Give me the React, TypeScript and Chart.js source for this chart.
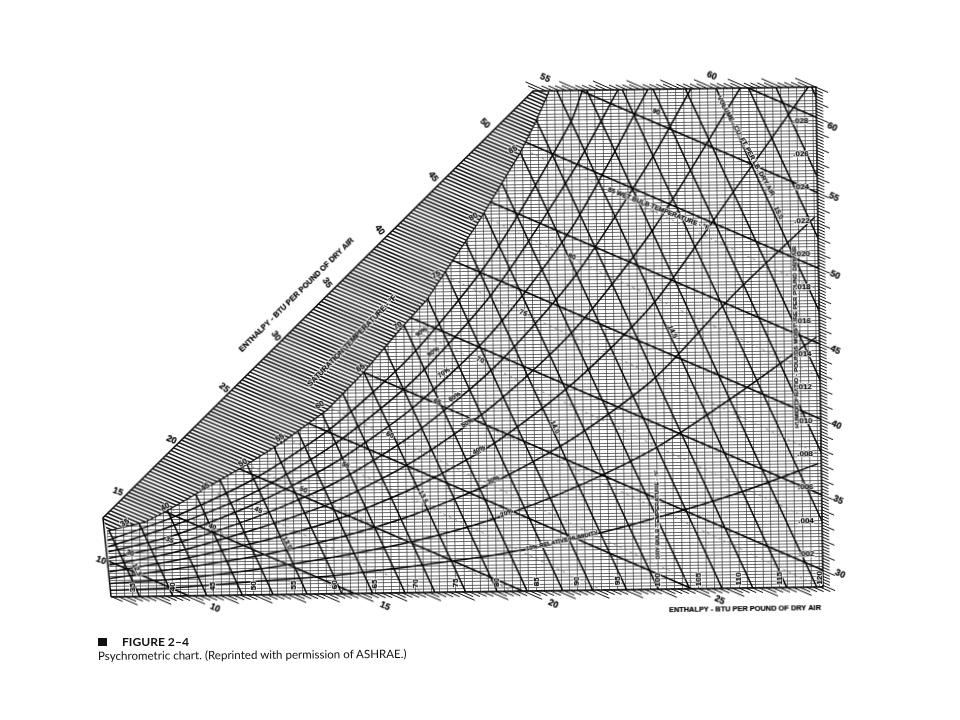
import React, { useEffect, useRef } from "react";
import { Chart, registerables } from "chart.js";

Chart.register(...registerables);

// Saturation curve (dry bulb F, humidity ratio)
const satT = [32, 36.7, 39.2, 43.9, 48.9, 53.9, 59.4, 63.9, 68.5, 71.9, 74.8, 78.2, 81.1, 83.67, 85.6, 87.35];
const satW = [0.00396, 0.00446, 0.00505, 0.00634, 0.00769, 0.00916, 0.01104, 0.01322, 0.01578, 0.01755, 0.01963, 0.02202, 0.02427, 0.02629, 0.02808, 0.02993];

// Chart frame corners
const frameT = [32.36, 120.37, 120.37, 85.4, 31.5, 32.36];
const frameW = [0, 0, 0.03, 0.03, 0.00475, 0];

// Heavy enthalpy lines: value and dry-bulb intercept at zero moisture
const enthalpyValues = [10, 15, 20, 25, 30, 35, 40, 45, 50, 55, 60];
const enthalpyZeroT = [42, 62.5, 83.3, 104.2, 125, 145.8, 166.7, 187.5, 208.3, 229.2, 250];
const enthalpySlope = 4600;

// Heavy specific-volume lines: dry-bulb intercept at zero moisture
const volumeZeroT = [35.9, 40, 44.2, 48.6, 52.4, 56.6, 60.9, 64.7, 68.7, 72.4, 76.2, 80.1, 83.8, 88.2, 91.9, 96.1, 100, 103.9, 107.9, 111.7, 115.9, 119.6, 124, 127.8, 131.8, 135.6, 139.6, 143, 147.4];
const volumeSlope = 919;

// Relative humidity curves
const rhT = [32, 40, 50, 60, 70, 80, 90, 100, 110, 120];
const rh10W = [0.0004, 0.0005, 0.0008, 0.0011, 0.0016, 0.0022, 0.0031, 0.0043, 0.0057, 0.0074];
const rh20W = [0.0008, 0.001, 0.0015, 0.0022, 0.0031, 0.0044, 0.0062, 0.0085, 0.0116, 0.0150];
const rh30W = [0.0011, 0.0016, 0.0023, 0.0033, 0.0047, 0.0066, 0.0092, 0.0127, 0.0177, 0.0222];
const rh40T = [32, 40, 50, 60, 70, 80, 90, 100, 110, 119.4];
const rh40W = [0.0015, 0.0021, 0.0031, 0.0044, 0.0063, 0.0089, 0.0125, 0.0172, 0.0238, 0.03];
const rh50T = [32, 40, 50, 60, 70, 80, 90, 100, 111];
const rh50W = [0.0019, 0.0026, 0.0039, 0.0055, 0.0079, 0.0112, 0.0156, 0.0216, 0.03];
const rh60T = [32, 40, 50, 60, 70, 80, 90, 100, 104.9];
const rh60W = [0.0023, 0.0031, 0.0046, 0.0066, 0.0095, 0.0134, 0.0187, 0.0259, 0.03];
const rh70T = [32, 40, 50, 60, 70, 80, 90, 99.6];
const rh70W = [0.0027, 0.0036, 0.0054, 0.0078, 0.0111, 0.0156, 0.0218, 0.03];
const rh80T = [32, 40, 50, 60, 70, 80, 90, 95.9];
const rh80W = [0.003, 0.0042, 0.0061, 0.0089, 0.0127, 0.0179, 0.025, 0.03];
const rh90T = [32, 40, 50, 60, 70, 80, 90, 91.5];
const rh90W = [0.0034, 0.0047, 0.0069, 0.01, 0.0143, 0.0201, 0.0281, 0.03];

// Faint dashed wet-bulb lines: start on saturation, end at the chart's edge
const wbStartT = [40, 45, 50, 55, 60, 65, 70, 75, 80, 85];
const wbStartW = [0.0052, 0.0063, 0.0077, 0.0092, 0.0111, 0.0133, 0.0158, 0.0188, 0.0223, 0.0263];
const wbEndT = [61.6, 71, 82, 93, 106, 120, 120, 120, 120, 120];
const wbEndW = [0, 0, 0, 0, 0, 0, 0.0038, 0.008, 0.0127, 0.0179];

// Tick labels
const dryBulbLabels = [35, 40, 45, 50, 55, 60, 65, 70, 75, 80, 85, 90, 95, 100, 105, 110, 115, 120];
const humidityLabels = [0.002, 0.004, 0.006, 0.008, 0.01, 0.012, 0.014, 0.016, 0.018, 0.02, 0.022, 0.024, 0.026, 0.028];

const BOLD = '"Liberation Sans", Arial, sans-serif';
type Note = [string, number, number, number, number?];

// [text, dry bulb, humidity ratio, rotation, font size]
const enthalpyNotes: Note[] = [
  ["10", 31.2, 0.0022, 20], ["15", 33.4, 0.0063, 20], ["20", 40.1, 0.00937, 25], ["25", 46.7, 0.01244, 40],
  ["30", 53.2, 0.01552, 55], ["35", 59.6, 0.01866, 55], ["40", 66.2, 0.02179, 55], ["45", 72.9, 0.02494, 55],
  ["50", 79.4, 0.02809, 45], ["55", 86.9, 0.03077, 25], ["60", 107.5, 0.03076, 25],
  ["60", 122.3, 0.02759, 25], ["55", 122.4, 0.02339, 25], ["50", 122.4, 0.01871, 25], ["45", 122.3, 0.01421, 25],
  ["40", 122.3, 0.00971, 25], ["35", 122.4, 0.00521, 25], ["30", 122.5, 0.00077, 25],
  ["25", 107.6, -0.0007, 25], ["20", 87, -0.00079, 25], ["15", 66.2, -0.00078, 25], ["10", 45.2, -0.00075, 25],
];
const saturationNotes: Note[] = [
  ["35", 34.2, 0.00443, -30], ["40", 39.2, 0.00535, -30], ["45", 44.2, 0.00652, -30], ["50", 48.9, 0.00793, -30],
  ["55", 53.5, 0.0094, -30], ["60", 58.5, 0.01134, -30], ["65", 63.6, 0.01353, -30], ["70", 68.3, 0.01602, -30],
  ["75", 73.1, 0.01904, -30], ["80", 77.8, 0.02249, -30], ["85", 82.8, 0.02648, -30],
];
const fieldNotes: Note[] = [
  ["90", 100.6, 0.02864, 22], ["80", 89.9, 0.02001, 22], ["75", 83.8, 0.01669, 22], ["70", 78.4, 0.01391, 22],
  ["65", 73, 0.01142, 22], ["60", 67.1, 0.00948, 22], ["55", 61.6, 0.00772, 22], ["50", 56.3, 0.00626, 22],
  ["45", 50.7, 0.00509, 22], ["40", 45, 0.00411, 22], ["35", 39.7, 0.00337, 22], ["30", 34.8, 0.00262, 22],
];
const volumeNotes: Note[] = [
  ["15.0", 115.5, 0.02248, 65], ["14.5", 102.2, 0.01543, 65], ["14.0", 87.5, 0.00982, 65],
  ["13.5", 71.1, 0.00574, 65], ["13.0", 54.2, 0.00309, 65], ["12.5", 35.6, 0.0016, 65],
];
const rhNotes: Note[] = [
  ["90%", 71.2, 0.01564, -35], ["80%", 72.6, 0.01443, -35], ["70%", 73.9, 0.01316, -33], ["60%", 75.2, 0.01171, -32],
  ["50%", 76.7, 0.01014, -30], ["40%", 78.1, 0.00851, -28], ["30%", 79.8, 0.0067, -25], ["20%", 81.4, 0.0047, -22],
  ["10% RELATIVE HUMIDITY", 88.2, 0.00298, -12, 6],
];
const titleNotes: Note[] = [
  ["85 WET BULB TEMPERATURE - \u00b0F", 100.7, 0.02282, 22, 6.6],
  ["VOLUME - CU. FT. PER LB. DRY AIR", 111.6, 0.02652, 62, 6.6],
  ["HUMIDITY RATIO - POUNDS MOISTURE PER POUND DRY AIR", 117.5, 0.01502, -90, 6.2],
  ["DRY BULB TEMPERATURE - \u00b0F", 100, 0.00446, -90, 6],
  ["SATURATION TEMPERATURE - \u00b0F", 62.6, 0.01516, -45, 7.7],
  ["ENTHALPY - BTU PER POUND OF DRY AIR", 55.8, 0.01796, -44, 7.7],
  ["ENTHALPY - BTU PER POUND OF DRY AIR", 110.7, -0.00125, 0, 7.4],
];

type P = { x: number; y: number };
const zip = (t: number[], w: number[]): P[] => t.map((x, i) => ({ x, y: w[i] }));
const BREAK: P = { x: NaN, y: NaN };
const lineDs = (data: P[], borderWidth: number, region: string, extra: object = {}) => ({
  data, borderWidth, borderColor: "#050505", showLine: true, pointRadius: 0, fill: false, spanGaps: false, region, ...extra,
});
const enthalpyT = (zeroT: number, w: number) => zeroT - enthalpySlope * w;

function hatchAndTicks() {
  const hatch: P[] = [];
  const ticks: P[] = [];
  for (let i = 48; i <= 220; i++) {
    const z = (i * 0.25) / 0.24;
    hatch.push({ x: enthalpyT(z, -0.001), y: -0.001 }, { x: enthalpyT(z, 0.032), y: 0.032 }, BREAK);
  }
  for (let i = 39; i <= 312; i++) {
    const h = i * 0.2;
    const z = h / 0.24;
    const long = i % 5 === 0;
    const rightW = (z - 120.37) / enthalpySlope;
    if (rightW < 0) {
      if (z > 32.4) ticks.push({ x: z, y: 0 }, { x: enthalpyT(z, long ? -0.0005 : -0.00028), y: long ? -0.0005 : -0.00028 }, BREAK);
    } else if (rightW <= 0.03) {
      const dT = long ? 1.5 : 0.85;
      ticks.push({ x: 120.37, y: rightW }, { x: 120.37 + dT, y: (z - 120.37 - dT) / enthalpySlope }, BREAK);
    }
    const topT = enthalpyT(z, 0.03);
    if (topT >= 85.4 && topT <= 120.37) {
      const up = long ? 0.03055 : 0.0303;
      ticks.push({ x: topT, y: 0.03 }, { x: enthalpyT(z, up), y: up }, BREAK);
    }
  }
  return { hatch, ticks };
}

function tracePolygon(chart: any, points: P[]) {
  const { ctx, scales } = chart;
  ctx.beginPath();
  points.forEach((p, i) => {
    const px = scales.x.getPixelForValue(p.x);
    const py = scales.y.getPixelForValue(p.y);
    if (i === 0) ctx.moveTo(px, py);
    else ctx.lineTo(px, py);
  });
  ctx.closePath();
}

const satPoints = zip(satT, satW);
const fieldRegion: P[] = [{ x: 32.36, y: 0 }, { x: 120.37, y: 0 }, { x: 120.37, y: 0.03 }, { x: 87.35, y: 0.03 }, ...[...satPoints].reverse()];
const hatchRegion: P[] = [{ x: 31.5, y: 0.00475 }, { x: 85.4, y: 0.03 }, ...[...satPoints].reverse()];

const regionPlugin = {
  id: "regions",
  beforeDraw(chart: any) {
    chart.ctx.save();
    tracePolygon(chart, fieldRegion);
    chart.ctx.clip();
  },
  beforeDatasetsDraw(chart: any) {
    chart.ctx.restore();
  },
  beforeDatasetDraw(chart: any, args: any) {
    const region = chart.data.datasets[args.index].region;
    chart.ctx.save();
    if (region === "field") {
      tracePolygon(chart, fieldRegion);
      chart.ctx.clip();
    } else if (region === "hatch") {
      tracePolygon(chart, hatchRegion);
      chart.ctx.clip();
    }
  },
  afterDatasetDraw(chart: any) {
    chart.ctx.restore();
  },
};

const notesPlugin = {
  id: "notes",
  afterDatasetsDraw(chart: any) {
    const { ctx, scales } = chart;
    const draw = (notes: Note[], size: number) => {
      ctx.textAlign = "center";
      ctx.textBaseline = "middle";
      ctx.lineJoin = "round";
      for (const [text, t, w, rot, own] of notes) {
        ctx.font = `bold ${own ?? size}px ${BOLD}`;
        ctx.save();
        ctx.translate(scales.x.getPixelForValue(t), scales.y.getPixelForValue(w));
        ctx.rotate((rot * Math.PI) / 180);
        ctx.strokeStyle = "rgba(255,255,255,0.85)";
        ctx.lineWidth = 1.8;
        ctx.strokeText(text, 0, 0);
        ctx.fillStyle = "#000";
        ctx.strokeStyle = "#000";
        ctx.lineWidth = 0.2;
        ctx.fillText(text, 0, 0);
        ctx.strokeText(text, 0, 0);
        ctx.restore();
      }
    };
    ctx.save();
    draw(enthalpyNotes, 9);
    draw(saturationNotes, 8);
    draw(fieldNotes, 7);
    draw(volumeNotes, 7);
    draw(rhNotes, 6.5);
    draw(titleNotes, 6.6);
    draw(dryBulbLabels.map((d): Note => [String(d), d, 0.00055, -90]), 8);
    draw(humidityLabels.map((h): Note => [h.toFixed(3).slice(1), 118.4, h, 0]), 8);
    ctx.restore();
  },
};

export default function App() {
  const ref = useRef<HTMLCanvasElement | null>(null);
  useEffect(() => {
    const { hatch, ticks } = hatchAndTicks();
    const enthalpy = enthalpyZeroT.flatMap((z) => [{ x: enthalpyT(z, -0.001), y: -0.001 }, { x: enthalpyT(z, 0.032), y: 0.032 }, BREAK]);
    const volume = volumeZeroT.flatMap((z) => [{ x: z + 0.001 * volumeSlope, y: -0.001 }, { x: z - 0.032 * volumeSlope, y: 0.032 }, BREAK]);
    const wb = wbStartT.flatMap((t, i) => [{ x: t, y: wbStartW[i] }, { x: wbEndT[i], y: wbEndW[i] }, BREAK]);
    const rhCurves = [zip(rhT, rh10W), zip(rhT, rh20W), zip(rhT, rh30W), zip(rh40T, rh40W), zip(rh50T, rh50W), zip(rh60T, rh60W), zip(rh70T, rh70W), zip(rh80T, rh80W), zip(rh90T, rh90W)];
    const chart = new Chart(ref.current as HTMLCanvasElement, {
      type: "scatter",
      data: {
        datasets: [
          lineDs(wb, 0.8, "field", { borderColor: "#777", borderDash: [3, 3] }),
          lineDs(hatch, 1.5, "hatch", { borderColor: "#111" }),
          lineDs(ticks, 1, "all"),
          lineDs(volume, 1.5, "field"),
          lineDs(enthalpy, 1.6, "field"),
          ...rhCurves.map((c) => lineDs(c, 1.5, "field", { tension: 0.25 })),
          lineDs(satPoints, 1.2, "all"),
          lineDs(zip(frameT, frameW), 1.5, "all"),
        ] as any,
      },
      options: {
        animation: false,
        responsive: false,
        events: [],
        layout: { padding: 0 },
        plugins: { legend: { display: false }, tooltip: { enabled: false }, title: { display: false } },
        scales: {
          x: {
            type: "linear",
            min: 18.64,
            max: 137.31,
            border: { display: false },
            grid: { color: "#3a3a3a", lineWidth: 0.7, drawTicks: false },
            ticks: { display: false, stepSize: 1, autoSkip: false, includeBounds: false },
          },
          y: {
            type: "linear",
            min: -0.00798,
            max: 0.03522,
            border: { display: false },
            grid: { color: "#3a3a3a", lineWidth: 0.75, drawTicks: false },
            ticks: { display: false, stepSize: 0.0002, autoSkip: false, includeBounds: false },
          },
        },
      },
      plugins: [regionPlugin, notesPlugin],
    } as any);
    return () => chart.destroy();
  }, []);

  return (
    <div style={{ position: "absolute", left: 0, top: 0, width: 960, height: 720, overflow: "hidden", background: "#fff" }}>
      <canvas
        ref={ref}
        width={960}
        height={720}
        style={{ position: "absolute", left: 0, top: 0, width: 960, height: 720, transform: "rotate(-0.8deg)", transformOrigin: "823px 587px" }}
      />
      <div style={{ position: "absolute", left: 98, top: 638, width: 9, height: 8, background: "#111" }} />
      <div style={{ position: "absolute", left: 122, top: 634, fontFamily: "Lato, sans-serif", fontWeight: 700, fontSize: 12.1, lineHeight: "15px", color: "#111", whiteSpace: "nowrap" }}>
        FIGURE 2{"\u2013"}4
      </div>
      <div style={{ position: "absolute", left: 98, top: 648, fontFamily: "Lato, sans-serif", fontSize: 11.55, lineHeight: "15px", color: "#111", whiteSpace: "nowrap", transform: "rotate(-0.4deg)", transformOrigin: "0 0" }}>
        Psychrometric chart. (Reprinted with permission of ASHRAE.)
      </div>
    </div>
  );
}
